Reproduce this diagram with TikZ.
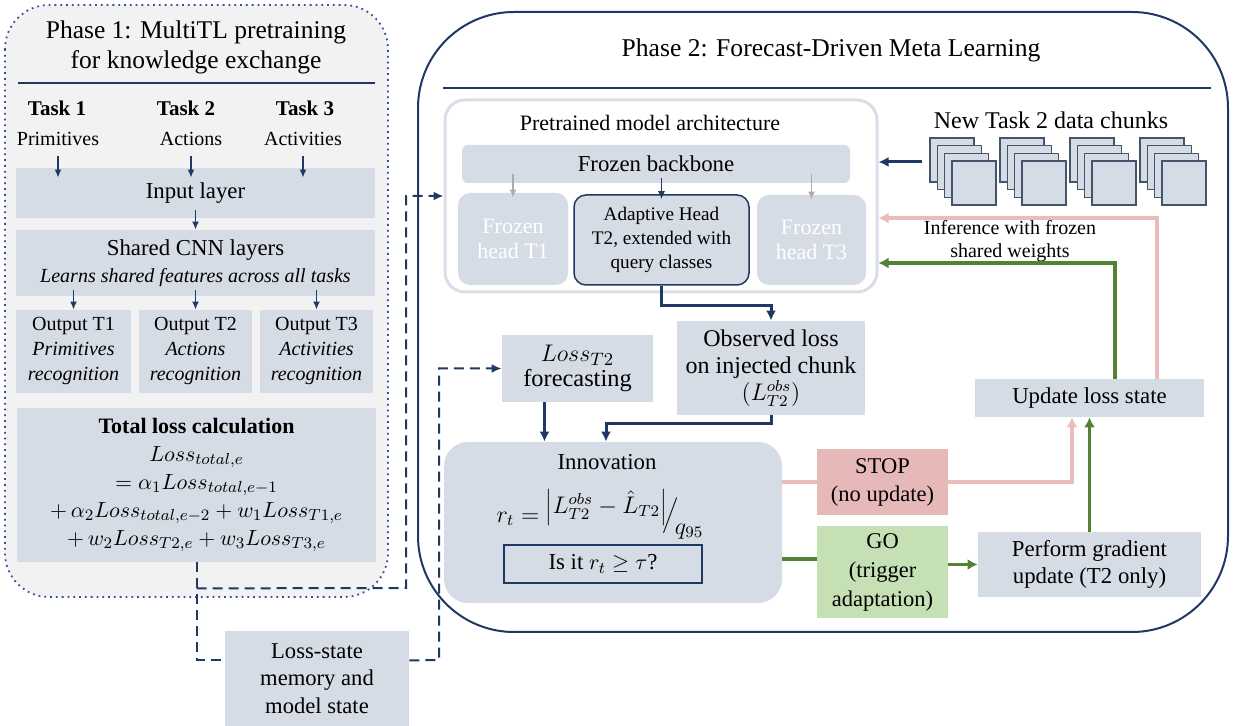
\documentclass[tikz,border=0pt]{standalone}
\usepackage{fontspec}
\setmainfont{Liberation Serif}
\usetikzlibrary{arrows.meta,fit,positioning}

\definecolor{navy}{HTML}{203864}
\definecolor{bfill}{HTML}{D6DCE5}
\definecolor{panel}{HTML}{F2F2F2}
\definecolor{dotblue}{HTML}{2F5597}
\definecolor{archline}{HTML}{D9DEE7}
\definecolor{headarr}{HTML}{AFABAB}
\definecolor{chunkline}{HTML}{44546A}
\definecolor{stopfill}{HTML}{E6B9B8}
\definecolor{stopline}{HTML}{E9BCBB}
\definecolor{gofill}{HTML}{C5E0B4}
\definecolor{goline}{HTML}{548235}

\begin{document}
\begin{tikzpicture}[x=0.5pt,y=-0.5pt,
 blk/.style={fill=bfill,inner sep=0pt},
 txt/.style={inner sep=0pt,align=center,font=\fontsize{11.4}{14}\selectfont},
 lbl/.style={inner sep=1pt,align=center,font=\fontsize{10.5}{12.5}\selectfont},
 chunk/.style={draw=chunkline,line width=0.6pt,fill=bfill,minimum size=22pt,inner sep=0pt},
 sarr/.style={navy,line width=0.75pt,-{Latex[length=4pt,width=3.5pt]}},
 narr/.style={navy,line width=1.5pt,-{Latex[length=5pt,width=5pt]}},
 garr/.style={headarr,line width=0.75pt,-{Latex[length=4pt,width=3.5pt]}},
 dline/.style={navy,line width=1pt,dash pattern=on 5pt off 3pt},
 dtip/.style={-{Latex[length=5pt,width=4.5pt]}},
 pline/.style={stopline,line width=1.75pt},
 gline/.style={goline,line width=1.75pt},
 ptip/.style={-{Latex[length=5pt,width=5.5pt]}}]
\useasboundingbox (0,0) rectangle (1233,726);

% phase 1 panel
\draw[dotblue,line width=0.9pt,dotted,fill=panel,rounded corners=22pt] (5,5) rectangle (388,597);
\node[lbl,font=\fontsize{12.75}{15}\selectfont] (ttl1) at (196,47) {Phase 1: MultiTL pretraining\\for knowledge exchange};
\draw[navy,line width=1pt] (18,83) -- (375,83);

\node[lbl] (tk1) at (57,108) {\textbf{Task 1}};
\node[lbl] (tk2) at (186,108) {\textbf{Task 2}};
\node[lbl] (tk3) at (305,108) {\textbf{Task 3}};
\node[lbl,font=\fontsize{10}{12}\selectfont] (pr1) at (58,139) {Primitives};
\node[lbl,font=\fontsize{10}{12}\selectfont] (pr2) at (191,139) {Actions};
\node[lbl,font=\fontsize{10}{12}\selectfont] (pr3) at (303,139) {Activities};

\node[blk,fit={(16,168) (375,218)}] (inp) {};
\node[txt] (inp-t) at (inp) {Input layer};
\node[blk,fit={(16,230) (375,296)}] (cnn) {};
\node[txt,font=\fontsize{11.4}{13.5}\selectfont] (cnn-t) at (cnn) {Shared CNN layers\\{\fontsize{10}{12}\selectfont\itshape Learns shared features across all tasks}};
\node[blk,fit={(16,310) (131,393)}] (o1) {};
\node[blk,fit={(139,310) (252,393)}] (o2) {};
\node[blk,fit={(260,310) (373,393)}] (o3) {};
\node[txt,font=\fontsize{10}{12.5}\selectfont] (o1-t) at (o1) {Output T1\\\textit{Primitives}\\\textit{recognition}};
\node[txt,font=\fontsize{10}{12.5}\selectfont] (o2-t) at (o2) {Output T2\\\textit{Actions}\\\textit{recognition}};
\node[txt,font=\fontsize{10}{12.5}\selectfont] (o3-t) at (o3) {Output T3\\\textit{Activities}\\\textit{recognition}};
\node[blk,fit={(17,408) (376,562)}] (tot) {};
\node[txt,font=\fontsize{11}{14}\selectfont] (tot-t) at (tot) {\textbf{Total loss calculation}\\
 $Loss_{total,e}$\\
 $=\alpha_1 Loss_{total,e-1}$\\
 $+\,\alpha_2 Loss_{total,e-2}+w_1 Loss_{T1,e}$\\
 $+\,w_2 Loss_{T2,e}+w_3 Loss_{T3,e}$};

\foreach \i in {1,2,3}{
 \draw[sarr] ([yshift=-4pt]pr\i.south) -- ([yshift=-5pt]pr\i.south |- inp.north);
 \draw[sarr] ([yshift=3pt]cnn.south -| o\i.north) -- (o\i.north);
}
\draw[sarr] ([yshift=4pt]inp.south) -- (cnn.north);

% phase 2 panel
\draw[navy,line width=1pt,fill=white,rounded corners=48pt] (418,12) rectangle (1228,632);
\node[lbl,font=\fontsize{12.8}{15}\selectfont] (ttl2) at (831,50) {Phase 2: Forecast-Driven Meta Learning};
\draw[navy,line width=1pt] (443,88) -- (1211,88);

% pretrained model
\node[fit={(445,100) (877,292)},inner sep=0pt,draw=archline,line width=1.5pt,rounded corners=10pt,fill=white] (arch) {};
\node[lbl,font=\fontsize{11}{13}\selectfont] (arch-t) at (650,123) {Pretrained model architecture};
\node[blk,rounded corners=3pt,fit={(462,145) (850,183)}] (bb) {};
\node[txt] (bb-t) at (bb) {Frozen backbone};
\node[blk,rounded corners=6pt,fit={(458,193) (568,285)}] (h1) {};
\node[blk,rounded corners=6pt,draw=navy,line width=0.75pt,fit={(574,195) (749,285)}] (ada) {};
\node[blk,rounded corners=6pt,fit={(757,195) (866,285)}] (h3) {};
\node[txt,text=white,font=\fontsize{11}{12.5}\selectfont] (h1-t) at (h1) {Frozen\\head T1};
\node[txt,font=\fontsize{9.6}{12}\selectfont] (ada-t) at (ada) {Adaptive Head\\T2, extended with\\query classes};
\node[txt,text=white,font=\fontsize{11}{12.5}\selectfont] (h3-t) at (h3) {Frozen\\head T3};
\draw[garr] ([yshift=4.5pt]bb.south -| h1.north) -- ([yshift=-2.5pt]h1.north);
\draw[garr] ([yshift=4.5pt]bb.south -| h3.north) -- ([yshift=-2.5pt]h3.north);
\draw[sarr] ([yshift=2.5pt]bb.south -| ada.north) -- ([yshift=-2.5pt]ada.north);

% data chunks
\node[lbl,font=\fontsize{12}{14}\selectfont] (chk) at (1051,120) {New Task 2 data chunks};
\foreach \g in {0,...,3}
 \foreach \k in {0,...,3}
  \node[chunk] (ch-\g-\k) at (952+70*\g+7.3*\k,160+7.7*\k) {};
\coordinate (cin) at (922,162);
\draw[narr] (cin) -- (cin -| arch.east);

% loss boxes
\node[blk,fit={(502,335) (653,402)}] (fc) {};
\node[txt,font=\fontsize{12.2}{12.5}\selectfont] (fc-t) at (fc) {$Loss_{T2}$\\forecasting};
\node[blk,fit={(677,321) (865,415)}] (obs) {};
\node[txt,font=\fontsize{12}{13.5}\selectfont] (obs-t) at (obs) {Observed loss\\on injected chunk\\$(L^{obs}_{T2})$};
\node[blk,fit={(975,379) (1204,417)}] (upd) {};
\node[txt] (upd-t) at (upd) {Update loss state};

% innovation
\node[blk,rounded corners=12pt,fit={(444,442) (782,603)}] (inno) {};
\node[lbl,font=\fontsize{11.4}{13}\selectfont] (inno-t) at (607,462) {Innovation};
\node[lbl,font=\fontsize{12}{14}\selectfont] (frm) at (600,514) {$r_t=\raisebox{0.8ex}{$\left|L^{obs}_{T2}-\hat{L}_{T2}\right|$}\!\Big/\!\raisebox{-1.1ex}{$q_{95}$}$};
\node[draw=navy,line width=0.75pt,inner sep=0pt,fit={(504,545) (702,583)}] (ask) {};
\node[txt] (ask-t) at (ask) {Is it $r_t\geq\tau$?};

% decisions
\node[fill=stopfill,inner sep=0pt,fit={(817,449) (948,515)}] (stop) {};
\node[txt,font=\fontsize{11.25}{14}\selectfont] (stop-t) at (stop) {STOP\\(no update)};
\node[fill=gofill,inner sep=0pt,fit={(817,526) (948,618)}] (go) {};
\node[txt,font=\fontsize{11.25}{14.5}\selectfont] (go-t) at (go) {GO\\(trigger\\adaptation)};
\node[blk,fit={(978,532) (1201,597)}] (perf) {};
\node[txt,font=\fontsize{11.4}{13.5}\selectfont] (perf-t) at (perf) {Perform gradient\\update (T2 only)};

\node[lbl,font=\fontsize{10}{11.5}\selectfont] (inf) at (1010,241) {Inference with frozen\\shared weights};

% loss-state memory
\node[blk,fit={(225,631) (409,726)}] (mem) {};
\node[txt,font=\fontsize{11.3}{13.75}\selectfont] (mem-t) at (mem) {Loss-state\\memory and\\model state};

% dashed state links
\coordinate (j1) at ([yshift=-13pt]tot.south);
\coordinate (m1) at ([yshift=-49pt]tot.south);
\coordinate (j2) at (406,588);
\coordinate (m2) at (439,660);
\draw[dline] (tot.south) -- (m1) -- (m1 -| mem.west);
\draw[dline,dtip] (j1) -- (j2) |- (arch.west);
\draw[dline,dtip] (m1 -| mem.east) -- (m2) |- (fc.west);

% solid flow
\draw[narr] (ada.south) -- ++(0,20) -| (obs.north);
\draw[narr] (obs.south) -- ++(0,8) -| ([xshift=-3.5pt]inno.north);
\draw[narr] ([xshift=-16.5pt]fc.south) -- ([xshift=-16.5pt]fc.south |- inno.north);

\draw[pline] (stop.west -| inno.east) -- (stop.west);
\draw[pline,ptip] (stop.east) -| ([xshift=-8.75pt]upd.south);
\draw[gline] ([yshift=6.5pt]go.west -| inno.east) -- ([yshift=6.5pt]go.west);
\draw[gline,ptip] (go.east |- perf.west) -- (perf.west);
\draw[gline,ptip] (perf.north) -- (upd.south);
\draw[pline,ptip] ([xshift=33.75pt]upd.north) |- ([yshift=-11pt]arch.east);
\draw[gline,ptip] ([xshift=12.75pt]upd.north) |- ([yshift=-33.5pt]arch.east);
\end{tikzpicture}
\end{document}
